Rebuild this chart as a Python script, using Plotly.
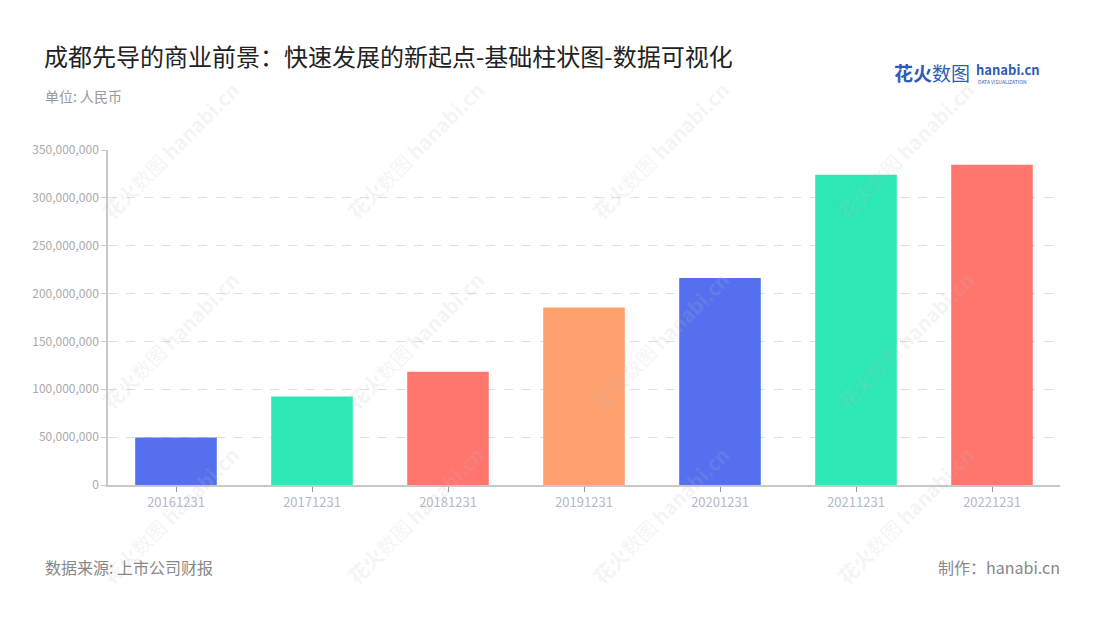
import plotly.graph_objects as go

categories = ["20161231", "20171231", "20181231", "20191231", "20201231", "20211231", "20221231"]
values = [49600000, 92500000, 118400000, 185500000, 216300000, 324200000, 334700000]
palette = ["#5470EE", "#2DE8B4", "#FF766F", "#FFA06F"]
bar_colors = [palette[i % 4] for i in range(len(categories))]
y_ticks = [0, 50000000, 100000000, 150000000, 200000000, 250000000, 300000000, 350000000]
y_tick_labels = ["0", "50,000,000", "100,000,000", "150,000,000", "200,000,000", "250,000,000", "300,000,000", "350,000,000"]

FONT = "Noto Sans CJK SC, Noto Sans, sans-serif"

fig = go.Figure()
fig.add_trace(go.Bar(
    x=categories, y=values, marker=dict(color=bar_colors, line=dict(width=0)),
    width=0.6, hoverinfo="x+y",
))

OFF = 8  # page offset of the figure inside the browser
W, H = 1100, 620
L, R, T, B = 108 - OFF, 1060 - OFF, 150 - OFF, 485 - OFF

fig.update_layout(
    width=W, height=H,
    margin=dict(l=L, r=W - R, t=T, b=H - B),
    plot_bgcolor="white", paper_bgcolor="white",
    showlegend=False, bargap=0.4,
    font=dict(family=FONT, color="#999"),
    xaxis=dict(
        type="category", showgrid=False, showline=True, linecolor="#c8c8c8", linewidth=1.5,
        ticks="outside", ticklen=5, tickcolor="#999", tickfont=dict(size=13, color="#b4b9c6"),
        fixedrange=True,
    ),
    yaxis=dict(
        range=[0, 350000000], tickvals=y_ticks, ticktext=y_tick_labels,
        showgrid=True, gridcolor="#dddddd", griddash="dash", gridwidth=1,
        showline=True, linecolor="#c8c8c8", linewidth=1.5,
        ticks="outside", ticklen=5, tickcolor="#c8c8c8", tickfont=dict(size=12, color="#aaaaaa"),
        zeroline=False, fixedrange=True,
    ),
)

def px_ann(x, y, text, size, color, xanchor="left", yanchor="middle", angle=0):
    x -= OFF
    y -= OFF
    fig.add_annotation(
        xref="paper", yref="paper",
        x=(x - L) / (R - L), y=(B - y) / (B - T),
        text=text, showarrow=False, xanchor=xanchor, yanchor=yanchor, textangle=angle,
        font=dict(family=FONT, size=size, color=color),
    )

# watermarks
for wx in [170, 415, 660, 905]:
    for wy in [150, 340, 515]:
        px_ann(wx, wy, "<b>花火</b>数图 <b>hanabi.cn</b>", 20, "rgba(190,190,190,0.16)", xanchor="center", angle=-45)

px_ann(42, 55, "成都先导的商业前景：快速发展的新起点-基础柱状图-数据可视化", 24, "#222222")
px_ann(43, 96, "单位: 人民币", 14, "#999999")
px_ann(43, 567, "数据来源: 上市公司财报", 16, "#888888")
px_ann(1062, 567, "制作：hanabi.cn", 16, "#888888", xanchor="right")
px_ann(892, 73, "<b>花火</b>数图", 19, "#2F5BB8")
px_ann(974, 69, "<b>hanabi.cn</b>", 13, "#2F5BB8")
px_ann(976, 81, "DATA VISUALIZATION", 5, "#2F5BB8")

fig.write_html("out.html")
